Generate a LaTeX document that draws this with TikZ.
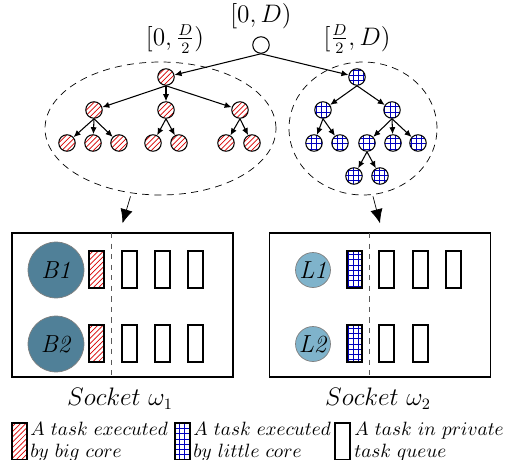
\documentclass[tikz,border=0pt]{standalone}
\usepackage{amsmath}
\usetikzlibrary{calc,arrows.meta,patterns,shapes.geometric}
\definecolor{grosbleu}{RGB}{80,128,152}
\definecolor{petitbleu}{RGB}{127,179,203}
\begin{document}
\begin{tikzpicture}[x=0.02cm,y=-0.02cm]
    % Styles
    \tikzset{fleche/.style={line width=0.6pt, -{Latex[length=4pt,width=3.5pt]}}}%
    \tikzset{grossefleche/.style={-{Latex[length=8pt,width=7pt]}}}%
    \tikzset{noeud/.style={circle, draw, line width=0.6pt, minimum size=0.33cm, inner sep=0pt}}%
    \tikzset{hachure/.style={pattern=north east lines, pattern color=red!85!black}}%
    \tikzset{grille/.style={pattern=grid, pattern color=blue!75!black}}%
    \tikzset{tache/.style={draw, thick, minimum width=0.3cm, minimum height=0.74cm, inner sep=0pt}}%
    \tikzset{socket/.style={draw, thick, minimum width=4.42cm, minimum height=2.88cm, inner sep=0pt}}%
    \tikzset{coeur/.style={circle, draw=gray, inner sep=0pt, font=\fontsize{14}{16}\selectfont}}%
    \tikzset{etiquette/.style={inner sep=1pt, font=\fontsize{13.5}{16}\selectfont}}%
    \tikzset{legende/.style={anchor=west, align=left, inner sep=0pt, font=\fontsize{10.5}{10.5}\selectfont}}%
    \tikzset{ensemble/.style={ellipse, draw, dash pattern=on 4pt off 3pt}}%

    \useasboundingbox (0,0) rectangle (508,460);%

    % Racine
    \node[noeud] (racine) at (261,45) {};%
    \node[etiquette] (lracine) at (261,16) {$[0, D)$};%
    \node[etiquette] (lgauche) at (175,39) {$[0, \frac{D}{2})$};%
    \node[etiquette] (ldroite) at (357,39) {$[\frac{D}{2}, D)$};%

    % Sous-arbre gauche
    \foreach \nom/\x/\y in {g/166/77, g1/94/110, g2/166/110, g3/240/110,
        g11/67/143, g12/93/143, g13/119/143, g21/153/143, g22/179/143,
        g31/226/143, g32/252/143}
        \node[noeud, hachure] (\nom) at (\x,\y) {};%
    \foreach \a/\b in {racine/g, g/g1, g/g2, g/g3, g1/g11, g1/g12, g1/g13,
        g2/g21, g2/g22, g3/g31, g3/g32}
        \draw[fleche] (\a.south) -- (\b);%

    % Sous-arbre droit
    \foreach \nom/\x/\y in {d/357/77, d1/323/110, d2/392/110,
        d11/314/143, d12/340/143, d21/367/143, d22/393/143, d23/418/143,
        d211/354/176, d212/380/176}
        \node[noeud, grille] (\nom) at (\x,\y) {};%
    \foreach \a/\b in {racine/d, d/d1, d/d2, d1/d11, d1/d12, d2/d21, d2/d22,
        d2/d23, d21/d211, d21/d212}
        \draw[fleche] (\a.south) -- (\b);%

    % Ensembles
    \node[ensemble, minimum width=4.62cm, minimum height=2.66cm] (ensg) at (160.5,128.5) {};%
    \node[ensemble, minimum width=2.96cm, minimum height=2.66cm] (ensd) at (363,128.5) {};%

    % Sockets
    \node[socket] (socg) at (122.5,305) {};%
    \node[socket] (socd) at (380,305) {};%
    \draw[grossefleche] ($(ensg.south)+(-30,1)$) -- ($(socg.north)+(0,-9)$);%
    \draw[grossefleche] ($(ensd.south)+(10,1)$) -- ($(socd.north)+(0,-9)$);%
    \draw[dashed, gray!70!black] (111,233) -- (111,377);%
    \draw[dashed, gray!70!black] (369,233) -- (369,377);%
    \node[etiquette] (lsocg) at (120,399) {$Socket\ \omega_1$};%
    \node[etiquette] (lsocd) at (378,399) {$Socket\ \omega_2$};%

    % Coeurs
    \node[coeur, fill=grosbleu, minimum size=1.12cm] (b1) at (56,270) {\textit{B1}};%
    \node[coeur, fill=grosbleu, minimum size=1.12cm] (b2) at (56,344) {\textit{B2}};%
    \node[coeur, fill=petitbleu, minimum size=0.7cm] (l1) at (313,270) {\textit{L1}};%
    \node[coeur, fill=petitbleu, minimum size=0.7cm] (l2) at (313,344) {\textit{L2}};%

    % Taches
    \node[tache, hachure] (tb1) at (96.5,269.5) {};%
    \node[tache, hachure] (tb2) at (96.5,343.5) {};%
    \node[tache, grille] (tl1) at (354.5,269.5) {};%
    \node[tache, grille] (tl2) at (354.5,343.5) {};%
    \foreach \i/\x in {1/129.5, 2/162.5, 3/195.5} {%
        \node[tache] (qb1\i) at (\x,269.5) {};%
        \node[tache] (qb2\i) at (\x,343.5) {};%
    }%
    \foreach \i/\x in {1/386.5, 2/420.5, 3/453.5}
        \node[tache] (ql1\i) at (\x,269.5) {};%
    \foreach \i/\x in {1/386.5, 2/420.5}
        \node[tache] (ql2\i) at (\x,343.5) {};%

    % Legende
    \node[tache, hachure] (cg) at (19.5,441.5) {};%
    \node[legende] (tg) at (30,442) {$A\ task\ executed$\\[2pt]$by\ big\ core$};%
    \node[tache, grille] (cd) at (182.5,441.5) {};%
    \node[legende] (td) at (193,442) {$A\ task\ executed$\\[2pt]$by\ little\ core$};%
    \node[tache] (cv) at (342.5,441.5) {};%
    \node[legende] (tv) at (354,442) {$A\ task\ in\ private$\\[2pt]$task\ queue$};%
\end{tikzpicture}
\end{document}
